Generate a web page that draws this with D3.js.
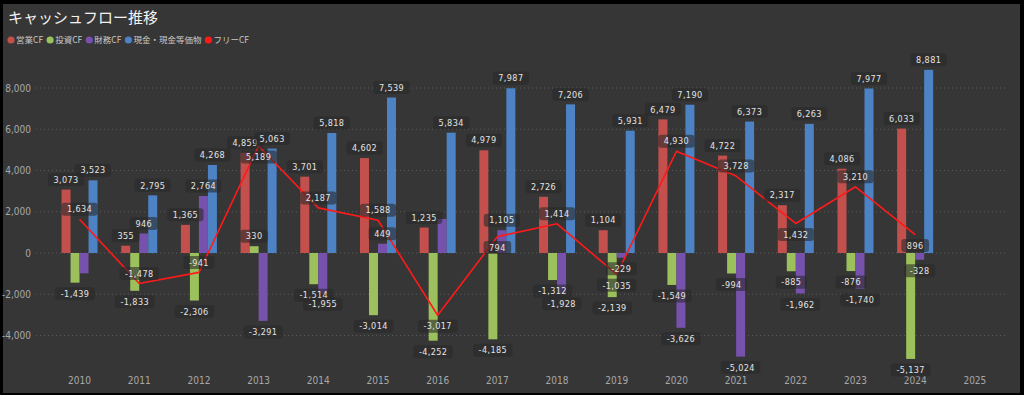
<!DOCTYPE html>
<html lang="ja">
<head>
<meta charset="utf-8">
<script src="https://cdn.jsdelivr.net/npm/d3@7"></script>
<style>
  html, body { margin: 0; padding: 0; background: #000; }
  svg { display: block; }
  .title { font-family: "Noto Sans CJK JP", "Noto Sans", sans-serif; font-size: 15px; fill: #f2f2f2; }
  .legend-text { font-family: "Noto Sans CJK JP", "Noto Sans", sans-serif; font-size: 8.5px; fill: #c8c8c8; }
  .tick-label { font-family: "Liberation Sans Narrow", "DejaVu Sans Condensed", sans-serif; font-size: 10px; fill: #a8a8a8; }
  .data-label { font-family: "Liberation Sans Narrow", "DejaVu Sans Condensed", sans-serif; font-size: 9px; fill: #e4e4e4; letter-spacing: 0.4px; }
  .gridline { stroke: #5a5a5a; stroke-dasharray: 1 3; }
</style>
</head>
<body>
<div id="chart"></div>
<script>
// キャッシュフロー推移 — grouped bars (4 CF series) + free cash flow line

const YEARS = [2010, 2011, 2012, 2013, 2014, 2015, 2016, 2017, 2018, 2019, 2020, 2021, 2022, 2023, 2024, 2025];
const OPERATING = [3073, 355, 1365, 4859, 3701, 4602, 1235, 4979, 2726, 1104, 6479, 4722, 2317, 4086, 6033, null];
const INVESTING = [-1439, -1833, -2306, 330, -1514, -3014, -4252, -4185, -1312, -2139, -1549, -994, -885, -876, -5137, null];
const FINANCING = [-985, 946, 2764, -3291, -1955, 449, 1650, 1105, -1928, -229, -3626, -5024, -1962, -1740, -328, null];
const CASH = [3523, 2795, 4268, 5063, 5818, 7539, 5834, 7987, 7206, 5931, 7190, 6373, 6263, 7977, 8881, null];
const FREE_CF = [1634, -1478, -941, 5189, 2187, 1588, -3017, 794, 1414, -1035, 4930, 3728, 1432, 3210, 896, null];
const Y_TICKS = [-4000, -2000, 0, 2000, 4000, 6000, 8000];

const BAR_SERIES = [
  { name: "営業CF", values: OPERATING, color: "#c4504d" },
  { name: "投資CF", values: INVESTING, color: "#9bc05c" },
  { name: "財務CF", values: FINANCING, color: "#7752ad" },
  { name: "現金・現金等価物", values: CASH, color: "#4d83c4" },
];
const LINE_SERIES = { name: "フリーCF", values: FREE_CF, color: "#ff1a1a" };

// labels the original drops because they collide, and FCF labels that sit under the point
const HIDDEN_LABELS = new Set(["財務CF-2010", "財務CF-2016"]);
const FCF_BELOW = new Set([2013, 2016, 2017, 2019, 2022, 2024]);

const W = 1024, H = 395;
const fmt = d3.formatLocale({ decimal: ".", thousands: ",", grouping: [3], currency: ["", ""], minus: "-" }).format(",");

const svg = d3.select("#chart").append("svg").attr("width", W).attr("height", H);

// panel
svg.append("rect").attr("x", 3).attr("y", 4).attr("width", 1017).attr("height", 389).attr("fill", "#363636");

svg.append("text").attr("class", "title").attr("x", 8).attr("y", 23).text("キャッシュフロー推移");

// legend
const legend = svg.append("g").attr("transform", "translate(11,40)");
let lx = 0;
[...BAR_SERIES, LINE_SERIES].forEach((s) => {
  const item = legend.append("g").attr("transform", `translate(${lx},0)`);
  item.append("circle").attr("r", 3.6).attr("fill", s.color);
  const t = item.append("text").attr("class", "legend-text").attr("x", 5).attr("y", 3.2).text(s.name);
  lx += 5 + t.node().getComputedTextLength() + 7;
});

// scales
const x = d3.scaleBand().domain(YEARS).range([49.7, 1004.7]);
const sub = d3.scaleBand().domain(BAR_SERIES.map((s) => s.name)).range([-18, 18]);
const y = d3.scaleLinear().domain([-6000, 9000]).range([376.75, 67.375]);
const cx = (yr) => x(yr) + x.bandwidth() / 2;

// gridlines
svg.append("g").selectAll("line").data(Y_TICKS).join("line")
  .attr("class", "gridline")
  .attr("x1", 36).attr("x2", 1005)
  .attr("y1", (d) => y(d)).attr("y2", (d) => y(d));

// y axis
const yAxis = svg.append("g").attr("transform", "translate(31,0)")
  .call(d3.axisLeft(y).tickValues(Y_TICKS).tickSize(0).tickPadding(0).tickFormat(fmt));
yAxis.select(".domain").remove();
yAxis.selectAll("text").attr("class", "tick-label").attr("fill", null).attr("font-family", null).attr("font-size", null);

// x axis
const xAxis = svg.append("g").attr("transform", "translate(0,376)")
  .call(d3.axisBottom(x).tickSize(0).tickPadding(0));
xAxis.select(".domain").remove();
xAxis.selectAll("text").attr("class", "tick-label").attr("dy", "8").attr("fill", null).attr("font-family", null).attr("font-size", null);

// bars
const barData = [];
BAR_SERIES.forEach((s) => {
  s.values.forEach((v, i) => {
    if (v == null) return;
    barData.push({ series: s.name, color: s.color, year: YEARS[i], value: v });
  });
});

svg.append("g").selectAll("rect").data(barData).join("rect")
  .attr("x", (d) => cx(d.year) + sub(d.series))
  .attr("width", sub.bandwidth())
  .attr("y", (d) => y(Math.max(0, d.value)))
  .attr("height", (d) => Math.abs(y(d.value) - y(0)))
  .attr("fill", (d) => d.color);

// free cash flow line
const linePts = LINE_SERIES.values.map((v, i) => ({ year: YEARS[i], value: v })).filter((d) => d.value != null);
svg.append("path").datum(linePts)
  .attr("fill", "none")
  .attr("stroke", LINE_SERIES.color)
  .attr("stroke-width", 1.6)
  .attr("stroke-linejoin", "round")
  .attr("d", d3.line().x((d) => cx(d.year)).y((d) => y(d.value)));

// data labels
const labels = [];
barData.forEach((d) => {
  if (HIDDEN_LABELS.has(`${d.series}-${d.year}`)) return;
  const lxp = cx(d.year) + sub(d.series) + sub.bandwidth() / 2;
  const ly = d.value >= 0 ? y(d.value) - 10 : y(d.value) + 11;
  labels.push({ x: lxp, y: ly, text: fmt(d.value) });
});
linePts.forEach((d) => {
  const below = FCF_BELOW.has(d.year);
  labels.push({ x: cx(d.year), y: y(d.value) + (below ? 11 : -10), text: fmt(d.value) });
});

const lab = svg.append("g").selectAll("g").data(labels).join("g")
  .attr("transform", (d) => `translate(${d.x},${d.y})`);
lab.append("rect").attr("class", "lbl-box");
lab.append("text").attr("class", "data-label")
  .attr("text-anchor", "middle").attr("dy", "0.35em")
  .text((d) => d.text);
lab.each(function () {
  const g = d3.select(this);
  const w = g.select("text").node().getComputedTextLength() + 11;
  g.select("rect")
    .attr("x", -w / 2).attr("y", -6.5).attr("width", w).attr("height", 13)
    .attr("rx", 3).attr("fill", "#2a2a2a").attr("fill-opacity", 0.6);
});
</script>
</body>
</html>
